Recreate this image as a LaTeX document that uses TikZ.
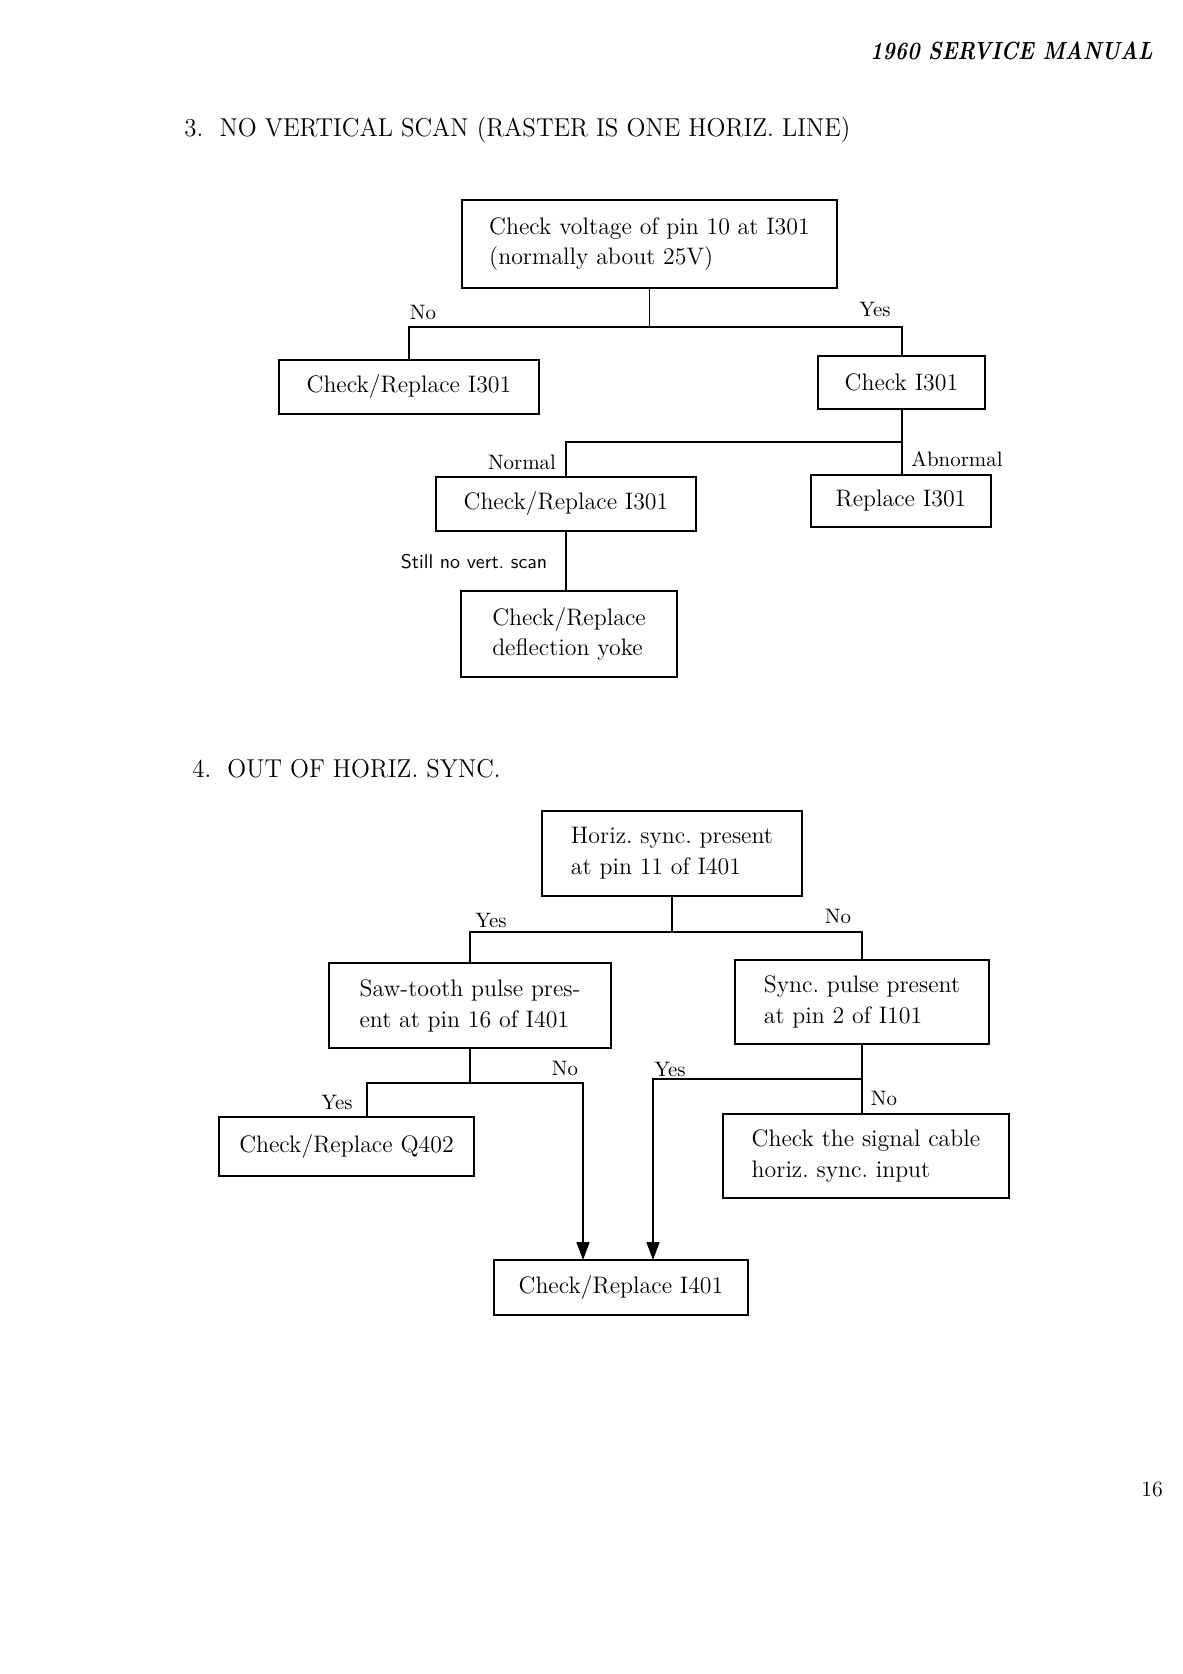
\documentclass[tikz,border=0pt]{standalone}
\usetikzlibrary{arrows.meta,calc}
\newcommand{\fitw}[2]{\resizebox{#1}{\height}{#2}}
\frenchspacing
\begin{document}
\begin{tikzpicture}[x=0.503pt,y=-0.503pt,
  box/.style={draw,line width=1.1pt,inner sep=0pt,outer sep=0pt,align=left,
    font=\fontsize{12}{15.5}\selectfont},
  lbl/.style={inner sep=0pt,font=\fontsize{10.5}{12}\selectfont},
  conn/.style={line width=1pt},
  arr/.style={line width=1pt,-{Triangle[width=6.5pt,length=9pt]}},
  head/.style={inner sep=0pt,anchor=west,font=\fontsize{13}{15}\selectfont}]
\useasboundingbox (0,0) rectangle (1183,1674);

% header
\node[inner sep=0pt,anchor=east,font=\fontsize{12.5}{14}\selectfont\bfseries\itshape] (hdr) at (1153,51) {\fitw{142pt}{1960 SERVICE MANUAL}};
\node[head] (h3) at (184,130) {\fitw{335pt}{3.\ \ NO VERTICAL SCAN (RASTER IS ONE HORIZ. LINE)}};
\node[head] (h4) at (192,769) {\fitw{155pt}{4.\ \ OUT OF HORIZ. SYNC.}};

% section 3 boxes
\node[box,minimum width=188.6pt,minimum height=44.3pt] (A) at (649.5,244) {Check voltage of pin 10 at I301\\(normally about 25V)};
\node[box,minimum width=130.8pt,minimum height=27.2pt] (B) at (409,387) {Check/Replace I301};
\node[box,minimum width=84pt,minimum height=26.7pt] (C) at (901.5,382.5) {Check I301};
\node[box,minimum width=130.8pt,minimum height=27.2pt] (D) at (566,504) {Check/Replace I301};
\node[box,minimum width=90.5pt,minimum height=26.2pt] (E) at (901,501) {Replace I301};
\node[box,minimum width=108.6pt,minimum height=43.3pt] (F) at (569,634) {Check/Replace\\deflection yoke};

% section 3 connectors
\path (A.south) ++(0,39) coordinate (a1);
\draw[conn] (A.south) -- (a1);
\draw[conn] (B.north) |- (a1) -| (C.north);
\draw[conn] (C.south) -- (C.south |- E.north);
\path (C.south) ++(0,33) coordinate (c1);
\draw[conn] (c1) -| (D.north);
\draw[conn] (D.south) -- (D.south |- F.north);

% section 3 labels
\node[lbl] (l1) at (423,312) {No};
\node[lbl] (l2) at (875,309) {Yes};
\node[lbl] (l3) at (522,462) {Normal};
\node[lbl] (l4) at (957,459) {Abnormal};
\node[lbl,font=\fontsize{10}{12}\selectfont\sffamily] (l5) at (474,562) {Still no vert. scan};

% section 4 boxes
\node[box,minimum width=130.8pt,minimum height=42.8pt] (G) at (672,853.5) {Horiz. sync. present\\at pin 11 of I401};
\node[box,minimum width=141.8pt,minimum height=42.8pt] (H) at (470,1005.5) {Saw-tooth pulse pres-\\ent at pin 16 of I401};
\node[box,minimum width=127.8pt,minimum height=42.3pt] (I) at (862,1002) {Sync. pulse present\\at pin 2 of I101};
\node[box,minimum width=128.3pt,minimum height=29.7pt] (J) at (346.5,1146.5) {Check/Replace Q402};
\node[box,minimum width=127.8pt,minimum height=27.7pt] (K) at (621,1287.5) {Check/Replace I401};
\node[box,minimum width=143.9pt,minimum height=42.3pt] (L) at (866,1156) {Check the signal cable\\horiz. sync. input};

% section 4 connectors
\path (G.south) ++(0,36) coordinate (g1);
\draw[conn] (G.south) -- (g1);
\draw[conn] (H.north) |- (g1) -| (I.north);
\path (H.south) ++(0,35) coordinate (h1);
\draw[conn] (H.south) -- (h1);
\draw[conn] ($(J.north)+(20.5,0)$) |- (h1);
\draw[arr] (h1) -| ($(K.north)+(-38,0)$);
\draw[conn] (I.south) -- (I.south |- L.north);
\path (I.south) ++(0,35) coordinate (i1);
\draw[arr] (i1) -| ($(K.north)+(32,0)$);

% section 4 labels
\node[lbl] (m1) at (491,920) {Yes};
\node[lbl] (m2) at (838,916) {No};
\node[lbl] (m3) at (565,1068) {No};
\node[lbl] (m4) at (337,1102) {Yes};
\node[lbl] (m5) at (670,1069) {Yes};
\node[lbl] (m6) at (884,1098) {No};

% page number
\node[inner sep=0pt,font=\fontsize{11}{13}\selectfont] (pg) at (1152,1489) {16};
\end{tikzpicture}
\end{document}
